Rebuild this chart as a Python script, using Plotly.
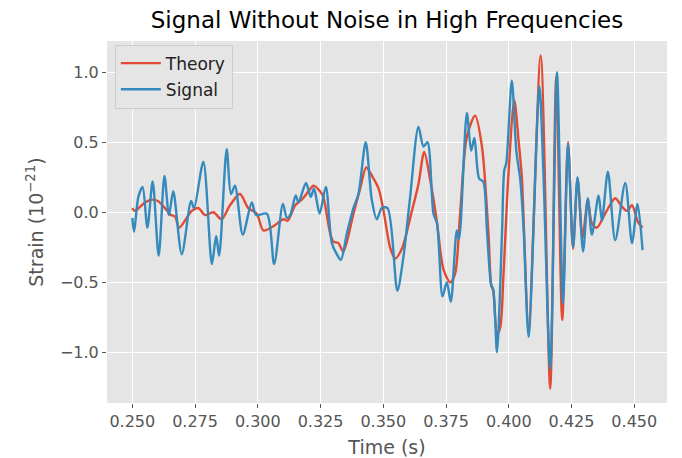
import plotly.graph_objects as go

# ---- data ----
signal_t = [0.2500, 0.2507, 0.2524, 0.2541, 0.2560, 0.2581, 0.2605, 0.2628, 0.2646, 0.2663,
            0.2697, 0.2734, 0.2746, 0.2783, 0.2817, 0.2834, 0.2846, 0.2876, 0.2893, 0.2909,
            0.2940, 0.2976, 0.2993, 0.3036, 0.3065, 0.3100, 0.3116, 0.3129, 0.3151, 0.3162,
            0.3192, 0.3211, 0.3224, 0.3246, 0.3271, 0.3295, 0.3315, 0.3331, 0.3355, 0.3381,
            0.3401, 0.3430, 0.3454, 0.3474, 0.3494, 0.3517, 0.3556, 0.3580, 0.3607, 0.3640,
            0.3660, 0.3676, 0.3700, 0.3714, 0.3736, 0.3753, 0.3769, 0.3793, 0.3802, 0.3833,
            0.3850, 0.3863, 0.3882, 0.3898, 0.3913, 0.3930, 0.3938, 0.3953, 0.3973, 0.3982,
            0.3990, 0.4012, 0.4030, 0.4046, 0.4059, 0.4079, 0.4122, 0.4138, 0.4165, 0.4192,
            0.4216, 0.4236, 0.4256, 0.4274, 0.4296, 0.4315, 0.4331, 0.4358, 0.4371, 0.4395,
            0.4424, 0.4464, 0.4491, 0.4513, 0.4533]
signal_v = [-0.04, -0.14, 0.11, 0.18, -0.11, 0.22, -0.31, 0.26, -0.02, 0.15,
            -0.30, 0.08, 0.03, 0.36, -0.37, -0.17, -0.31, 0.45, 0.13, 0.19,
            -0.16, 0.07, -0.02, -0.01, -0.37, 0.06, -0.04, -0.02, 0.12, 0.07,
            0.21, 0.11, 0.17, -0.01, 0.18, -0.22, -0.30, -0.34, -0.15, 0.03,
            0.13, 0.50, 0.09, -0.05, 0.03, 0.03, -0.56, -0.32, 0.11, 0.61,
            0.47, 0.50, -0.01, -0.08, -0.60, -0.50, -0.64, -0.13, -0.19, 0.71,
            0.44, 0.53, 0.24, 0.22, -0.13, -0.52, -0.55, -1.00, -0.15, 0.30,
            0.35, 0.94, 0.44, 0.23, -0.11, -0.89, 0.90, 0.28, -1.12, 1.00,
            -0.65, 0.49, -0.25, 0.25, -0.28, 0.10, -0.16, 0.12, -0.06, 0.29,
            -0.20, 0.21, -0.22, 0.06, -0.27]

theory_t = [0.2500, 0.2509, 0.2519, 0.2551, 0.2579, 0.2602, 0.2630, 0.2654, 0.2670, 0.2687,
            0.2737, 0.2763, 0.2790, 0.2823, 0.2856, 0.2889, 0.2929, 0.2962, 0.2996, 0.3022,
            0.3062, 0.3102, 0.3119, 0.3149, 0.3175, 0.3215, 0.3222, 0.3248, 0.3261, 0.3288,
            0.3301, 0.3321, 0.3341, 0.3381, 0.3408, 0.3432, 0.3461, 0.3481, 0.3501, 0.3527,
            0.3547, 0.3574, 0.3614, 0.3640, 0.3663, 0.3687, 0.3713, 0.3740, 0.3767, 0.3786,
            0.3806, 0.3833, 0.3866, 0.3893, 0.3919, 0.3930, 0.3938, 0.3953, 0.3966, 0.3979,
            0.3999, 0.4022, 0.4039, 0.4052, 0.4079, 0.4127, 0.4165, 0.4189, 0.4213, 0.4236,
            0.4256, 0.4274, 0.4294, 0.4315, 0.4331, 0.4351, 0.4384, 0.4424, 0.4451, 0.4471,
            0.4491, 0.4515, 0.4533]
theory_v = [0.03, 0.01, 0.02, 0.07, 0.09, 0.08, 0.03, -0.02, -0.03, -0.11,
            0.01, 0.03, -0.02, 0.00, -0.05, 0.05, 0.13, 0.03, -0.01, -0.13,
            -0.10, -0.05, -0.06, 0.05, 0.09, 0.18, 0.19, 0.15, 0.11, -0.15,
            -0.21, -0.22, -0.28, -0.01, 0.17, 0.32, 0.24, 0.17, 0.01, -0.25,
            -0.33, -0.26, 0.01, 0.20, 0.43, 0.23, -0.06, -0.41, -0.50, -0.44,
            -0.01, 0.54, 0.69, 0.47, -0.15, -0.52, -0.56, -0.87, -0.82, -0.44,
            0.28, 0.80, 0.51, 0.25, -0.82, 1.12, -1.26, 0.97, -0.77, 0.50,
            -0.26, 0.24, -0.18, 0.09, -0.08, -0.11, -0.01, 0.10, 0.04, 0.01,
            0.05, -0.07, -0.11]

x_ticks = [0.250, 0.275, 0.300, 0.325, 0.350, 0.375, 0.400, 0.425, 0.450]
y_ticks = [-1.0, -0.5, 0.0, 0.5, 1.0]

FONT = "DejaVu Sans"
GRAY = "#555555"

fig = go.Figure()
fig.add_trace(go.Scatter(x=theory_t, y=theory_v, mode="lines", name="Theory", legendgroup="a",
                         line=dict(color="#E24A33", width=2.4, shape="spline", smoothing=0.8)))
fig.add_trace(go.Scatter(x=signal_t, y=signal_v, mode="lines", name="Signal", legendgroup="b",
                         line=dict(color="#348ABD", width=2.4, shape="spline", smoothing=0.8)))

fig.update_layout(
    template="none",
    width=682, height=458,
    margin=dict(l=107, r=15, t=41, b=55),
    paper_bgcolor="white", plot_bgcolor="#E5E5E5",
    font=dict(family=FONT, size=16, color=GRAY),
    title=dict(text="Signal Without Noise in High Frequencies", x=(107 + 560 / 2) / 682,
               xanchor="center", y=1 - 20 / 458, yanchor="middle",
               font=dict(size=23, color="black", family=FONT)),
    showlegend=True,
    legend=dict(x=0.014, y=0.99, xanchor="left", yanchor="top",
                bgcolor="#E5E5E5", bordercolor="#CCCCCC", borderwidth=1,
                tracegroupgap=1, itemwidth=40,
                font=dict(size=17, color="#222222", family=FONT)),
)
fig.update_xaxes(range=[0.23991, 0.46304], tickvals=x_ticks, tickformat=".3f",
                 automargin=False,
                 showgrid=True, gridcolor="white", gridwidth=1.3, zeroline=False,
                 ticks="outside", ticklen=4, tickcolor=GRAY, tickwidth=1,
                 tickfont=dict(size=16, color=GRAY),
                 title=dict(text="Time (s)", font=dict(size=19, color=GRAY), standoff=10),
                 showline=False)
fig.update_yaxes(range=[-1.362, 1.223], tickvals=y_ticks, tickformat=".1f",
                 automargin=False,
                 showgrid=True, gridcolor="white", gridwidth=1.3, zeroline=False,
                 ticks="outside", ticklen=4, tickcolor=GRAY, tickwidth=1,
                 tickfont=dict(size=16, color=GRAY),
                 title=dict(text="Strain (10<sup>−21</sup>)", font=dict(size=19, color=GRAY), standoff=11),
                 showline=False)

fig.write_html("out.html")
